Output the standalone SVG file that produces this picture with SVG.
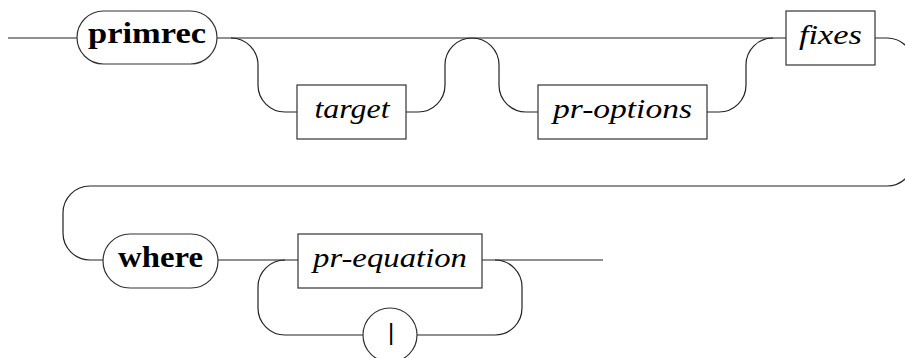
<svg xmlns="http://www.w3.org/2000/svg" width="905" height="358" viewBox="0 0 905 358">
<style>
.ln{fill:none;stroke:#222;stroke-width:1.2}
.bx{fill:#fff;stroke:#333;stroke-width:1.2}
.t{font-family:"Liberation Serif","Times New Roman",serif;fill:#000;text-anchor:middle}
.it{font-style:italic;font-size:27px}
.bd{font-weight:bold;font-size:30px}
</style>
<rect width="905" height="358" fill="#fff"/>
<g id="connectors" class="ln">
<path d="M8,38 H77 M217,38 H786 M875,38 H887 A27,27 0 0 1 914,65 V159 A27,27 0 0 1 887,186 H90 A27,27 0 0 0 63,213 V233 A27,27 0 0 0 90,260 H103 M218,260 H298 M482,260 H603"/>
<path d="M231,38 A27,27 0 0 1 258,65 V85 A27,27 0 0 0 285,112 H297 M406,112 H418 A27,27 0 0 0 445,85 V65 A27,27 0 0 1 472,38"/>
<path d="M472,38 A27,27 0 0 1 499,65 V85 A27,27 0 0 0 526,112 H538 M707,112 H719 A27,27 0 0 0 746,85 V65 A27,27 0 0 1 773,38"/>
<path d="M285,260 A27,27 0 0 0 258,287 V308 A27,27 0 0 0 285,335 H363 M417,335 H495 A27,27 0 0 0 522,308 V287 A27,27 0 0 0 495,260"/>
</g>
<g id="primrec"><rect class="bx" x="77" y="11" width="140" height="53" rx="26.5"/><text class="t bd" x="147" y="43" textLength="118" lengthAdjust="spacingAndGlyphs">primrec</text></g>
<g id="target"><rect class="bx" x="297" y="85" width="109" height="54"/><text class="t it" x="352" y="118" textLength="75" lengthAdjust="spacingAndGlyphs">target</text></g>
<g id="pr-options"><rect class="bx" x="538" y="85" width="169" height="54"/><text class="t it" x="622.5" y="118" textLength="139" lengthAdjust="spacingAndGlyphs">pr-options</text></g>
<g id="fixes"><rect class="bx" x="786" y="11" width="89" height="54"/><text class="t it" x="830.5" y="44" textLength="63" lengthAdjust="spacingAndGlyphs">fixes</text></g>
<g id="where"><rect class="bx" x="103" y="234" width="115" height="54" rx="27"/><text class="t bd" x="160.5" y="267" textLength="85" lengthAdjust="spacingAndGlyphs">where</text></g>
<g id="pr-equation"><rect class="bx" x="298" y="234" width="184" height="54"/><text class="t it" x="390" y="267" textLength="154" lengthAdjust="spacingAndGlyphs">pr-equation</text></g>
<g id="bar"><circle class="bx" cx="390" cy="335" r="27"/><text x="391" y="340" font-family="Liberation Sans, Arial, sans-serif" font-size="24" fill="#000" text-anchor="middle">|</text></g>
</svg>
